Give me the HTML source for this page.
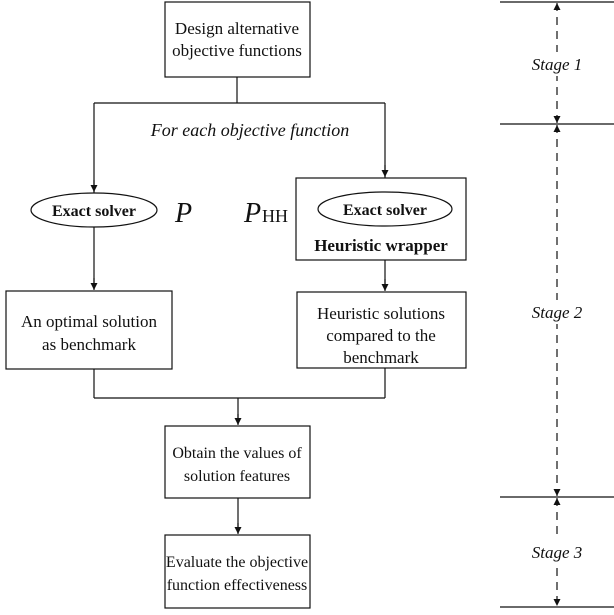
<!DOCTYPE html>
<html><head><meta charset="utf-8"><style>
html,body{margin:0;padding:0;background:#fff}
svg{display:block}
text{font-family:"Liberation Serif",serif;fill:#111}
</style></head><body>
<svg width="614" height="615" viewBox="0 0 614 615" xmlns="http://www.w3.org/2000/svg">
<defs>
<marker id="a" viewBox="0 0 10 10" refX="10" refY="5" markerWidth="7" markerHeight="7" orient="auto-start-reverse" markerUnits="userSpaceOnUse"><path d="M0,0L10,5L0,10z" fill="#111"/></marker>
</defs>
<g stroke="#111" stroke-width="1.2" fill="none">
<rect x="165" y="2" width="145" height="75"/>
<path d="M237 77V103M94 103H385M94 103V193M385 103V178" />
<ellipse cx="94" cy="210" rx="63" ry="17"/>
<rect x="296" y="178" width="170" height="82"/>
<ellipse cx="385" cy="209" rx="67" ry="17"/>
<path d="M94 227V289M385 260V290" />
<rect x="6" y="291" width="166" height="78"/>
<rect x="297" y="292" width="169" height="76"/>
<path d="M94 369V398M385 368V398M94 398H385M238 398V424"/>
<rect x="165" y="426" width="145" height="72"/>
<path d="M238 498V533"/>
<rect x="165" y="535" width="145" height="73"/>
<path d="M500 2H614M500 124H614M500 497H614M500 607H614"/>
</g>
<g stroke="#111" stroke-width="1.2">
<line x1="94" y1="180" x2="94" y2="192" marker-end="url(#a)"/>
<line x1="385" y1="165" x2="385" y2="177" marker-end="url(#a)"/>
<line x1="94" y1="278" x2="94" y2="290" marker-end="url(#a)"/>
<line x1="385" y1="279" x2="385" y2="291" marker-end="url(#a)"/>
<line x1="238" y1="414" x2="238" y2="425" marker-end="url(#a)"/>
<line x1="238" y1="523" x2="238" y2="534" marker-end="url(#a)"/>
</g>
<g stroke="#111" stroke-width="1.2" stroke-dasharray="8,6">
<line x1="557" y1="3" x2="557" y2="123" marker-start="url(#a)" marker-end="url(#a)"/>
<line x1="557" y1="125" x2="557" y2="496" marker-start="url(#a)" marker-end="url(#a)"/>
<line x1="557" y1="498" x2="557" y2="606" marker-start="url(#a)" marker-end="url(#a)"/>
</g>
<g fill="#fff">
<rect x="524" y="52" width="66" height="24"/>
<rect x="524" y="300" width="66" height="24"/>
<rect x="524" y="540" width="66" height="24"/>
</g>
<g font-size="17" text-anchor="middle">
<text x="237" y="34">Design alternative</text>
<text x="237" y="56">objective functions</text>
<text x="250" y="136" font-style="italic" font-size="18">For each objective function</text>
<text x="94" y="216" font-weight="bold" font-size="16">Exact solver</text>
<text x="385" y="215" font-weight="bold" font-size="16">Exact solver</text>
<text x="381" y="251" font-weight="bold" font-size="17">Heuristic wrapper</text>
<text x="89" y="327">An optimal solution</text>
<text x="89" y="350">as benchmark</text>
<text x="381" y="319">Heuristic solutions</text>
<text x="381" y="341">compared to the</text>
<text x="381" y="363">benchmark</text>
<text x="237" y="458" font-size="16">Obtain the values of</text>
<text x="237" y="481" font-size="16">solution features</text>
<text x="237" y="567" font-size="16">Evaluate the objective</text>
<text x="237" y="590" font-size="16">function effectiveness</text>
<text x="557" y="70" font-style="italic" font-size="17">Stage 1</text>
<text x="557" y="318" font-style="italic" font-size="17">Stage 2</text>
<text x="557" y="558" font-style="italic" font-size="17">Stage 3</text>
</g>
<text x="175" y="222" font-style="italic" font-size="28">P</text>
<text x="244" y="222" font-style="italic" font-size="28">P</text>
<text x="262" y="222" font-size="18">HH</text>
</svg>
</body></html>
